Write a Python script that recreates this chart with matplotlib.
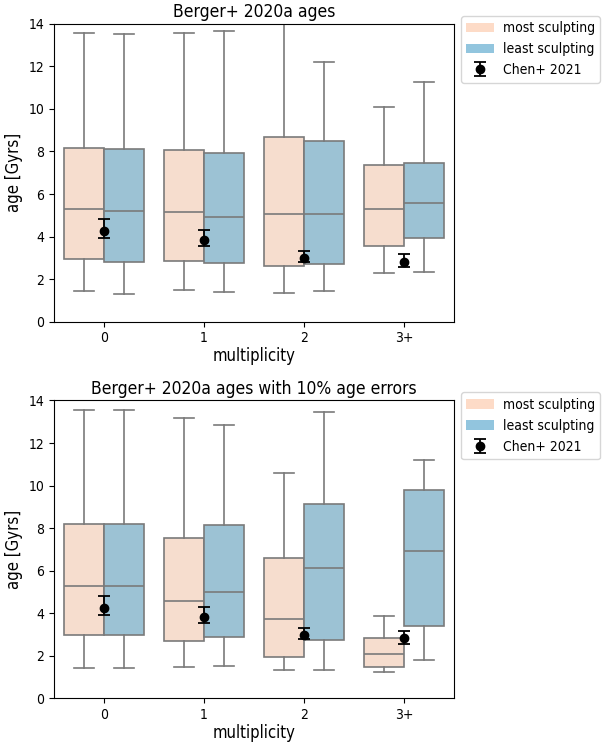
import colorsys

import matplotlib
matplotlib.use("Agg")
import matplotlib.pyplot as plt
import matplotlib.colors as mcolors
from matplotlib import font_manager
from matplotlib.patches import Patch

CATEGORIES = ["0", "1", "2", "3+"]
GROUPS = ["most sculpting", "least sculpting"]
PALETTE = ["#fddbc7", "#92c5de"]

# box stats per category: (whisker low, q1, median, q3, whisker high)
BERGER_MOST = [(1.45, 2.97, 5.30, 8.18, 13.55), (1.50, 2.85, 5.15, 8.07, 13.55),
               (1.35, 2.63, 5.05, 8.67, 14.30), (2.28, 3.57, 5.30, 7.38, 10.07)]
BERGER_LEAST = [(1.32, 2.82, 5.18, 8.10, 13.50), (1.40, 2.78, 4.90, 7.95, 13.65),
                (1.43, 2.70, 5.05, 8.48, 12.20), (2.33, 3.93, 5.60, 7.45, 11.25)]

ERR_MOST = [(1.43, 2.98, 5.28, 8.18, 13.55), (1.47, 2.70, 4.60, 7.53, 13.17),
            (1.32, 1.93, 3.73, 6.58, 10.57), (1.22, 1.47, 2.10, 2.85, 3.85)]
ERR_LEAST = [(1.43, 2.98, 5.28, 8.18, 13.55), (1.50, 2.90, 5.02, 8.13, 12.85),
             (1.32, 2.75, 6.12, 9.12, 13.47), (1.82, 3.40, 6.93, 9.80, 11.20)]

# Chen+ 2021 ages with asymmetric errors
CHEN_AGE = [4.27, 3.82, 2.98, 2.82]
CHEN_ERR_LO = [0.34, 0.27, 0.18, 0.25]
CHEN_ERR_HI = [0.55, 0.48, 0.32, 0.35]

PANELS = [
    ("Berger+ 2020a ages", BERGER_MOST, BERGER_LEAST),
    ("Berger+ 2020a ages with 10% age errors", ERR_MOST, ERR_LEAST),
]

EDGE = "#7a7a7a"

# narrower glyphs if the condensed DejaVu face is around
names = {f.name for f in font_manager.fontManager.ttflist}
if "DejaVu Sans Condensed" in names:
    plt.rcParams["font.family"] = ["DejaVu Sans Condensed", "DejaVu Sans"]
else:
    plt.rcParams["font.stretch"] = "condensed"


def desaturate(color, prop=0.75):
    r, g, b = mcolors.to_rgb(color)
    h, l, s = colorsys.rgb_to_hls(r, g, b)
    return colorsys.hls_to_rgb(h, l, s * prop)


def to_stats(rows):
    return [dict(whislo=lo, q1=q1, med=med, q3=q3, whishi=hi, fliers=[])
            for lo, q1, med, q3, hi in rows]


def draw_panel(ax, title, most, least):
    x = range(len(CATEGORIES))
    for offset, rows, color in [(-0.2, most, PALETTE[0]), (0.2, least, PALETTE[1])]:
        ax.bxp(to_stats(rows), positions=[i + offset for i in x],
               widths=0.4, capwidths=0.2, patch_artist=True, showfliers=False,
               boxprops=dict(facecolor=desaturate(color), edgecolor=EDGE, linewidth=1.2),
               medianprops=dict(color=EDGE, linewidth=1.2),
               whiskerprops=dict(color=EDGE, linewidth=1.2),
               capprops=dict(color=EDGE, linewidth=1.2))
    ax.errorbar(list(x), CHEN_AGE, yerr=[CHEN_ERR_LO, CHEN_ERR_HI], fmt="o",
                color="black", markersize=6, capsize=4, elinewidth=1.3,
                capthick=1.3, zorder=5, label="Chen+ 2021")
    ax.set_xlim(-0.5, len(CATEGORIES) - 0.5)
    ax.set_ylim(0, 14)
    ax.set_xticks(list(x))
    ax.set_xticklabels(CATEGORIES)
    ax.tick_params(labelsize=10)
    ax.set_xlabel("multiplicity", fontsize=12, labelpad=1)
    ax.set_ylabel("age [Gyrs]", fontsize=12)
    ax.set_title(title, fontsize=12.5, pad=5)

    handles = [Patch(facecolor=c, label=g) for g, c in zip(GROUPS, PALETTE)]
    handles += ax.get_legend_handles_labels()[0]
    ax.legend(handles=handles, loc="upper left", bbox_to_anchor=(1.017, 1.027),
              borderaxespad=0, fontsize=10, handletextpad=0.6)


fig = plt.figure(figsize=(6.07, 7.43), dpi=100)
ax_top = fig.add_axes([0.089, 0.567, 0.659, 0.401])
ax_bot = fig.add_axes([0.089, 0.060, 0.659, 0.401])
for ax, (title, most, least) in zip([ax_top, ax_bot], PANELS):
    draw_panel(ax, title, most, least)

fig.savefig("out.png", dpi=100)
